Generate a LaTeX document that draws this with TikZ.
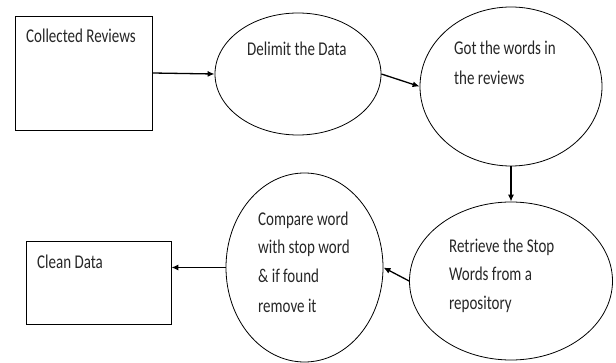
\documentclass[tikz,border=0pt]{standalone}
\usepackage{fontspec}
\setmainfont{Carlito}
\usetikzlibrary{shapes.geometric,arrows.meta}
\newcommand{\tl}[1]{\scalebox{1}[1.3]{#1}}
\tikzset{
  box/.style={draw, line width=0.8pt, rectangle, inner sep=0pt},
  oval/.style={draw, line width=0.8pt, ellipse, inner sep=0pt},
  txt/.style={anchor=west, inner sep=0pt, text height=12pt, text depth=0pt,
              font=\fontsize{15}{18}\selectfont, text=black!85},
  flow/.style={line width=1.3pt, -{Latex[length=7pt,width=6pt]}},
}
\begin{document}
\begin{tikzpicture}[x=1pt,y=-1pt]
\useasboundingbox (0,0) rectangle (616,363);
% shapes
\node[box, minimum width=137pt, minimum height=114pt] (b1) at (83.5,73) {};
\node[oval, minimum width=166pt, minimum height=122pt] (e1) at (298,74) {};
\node[oval, minimum width=182pt, minimum height=159pt] (e2) at (511,86.5) {};
\node[oval, minimum width=203pt, minimum height=158pt] (e3) at (511,281) {};
\node[oval, minimum width=157pt, minimum height=189pt] (e4) at (304.5,267.5) {};
\node[box, minimum width=145pt, minimum height=83pt] (b2) at (98.5,282.5) {};
% texts
\node[txt] (t1) at (26,37) {\tl{Collected Reviews}};
\node[txt] (t2) at (247,50) {\tl{Delimit the Data}};
\node[txt] (t3a) at (454,49) {\tl{Got the words in}};
\node[txt] (t3b) at (454,79) {\tl{the reviews}};
\node[txt] (t4a) at (449,247) {\tl{Retrieve the Stop}};
\node[txt] (t4b) at (449,275) {\tl{Words from a}};
\node[txt] (t4c) at (449,304) {\tl{repository}};
\node[txt] (t5a) at (258,220) {\tl{Compare word}};
\node[txt] (t5b) at (258,248) {\tl{with stop word}};
\node[txt] (t5c) at (258,277) {\tl{\& if found}};
\node[txt] (t5d) at (258,307) {\tl{remove it}};
\node[txt] (t6) at (37,263) {\tl{Clean Data}};
% connectors
\draw[flow] (b1.east) -- (e1.west);
\draw[flow] (e1.east) -- (e2.west);
\draw[flow] (e2.south) -- (e3.north);
\draw[flow] (e3.west) -- (e4.east);
\draw[flow] (e4.west) -- (e4.west -| b2.east);
\end{tikzpicture}
\end{document}
